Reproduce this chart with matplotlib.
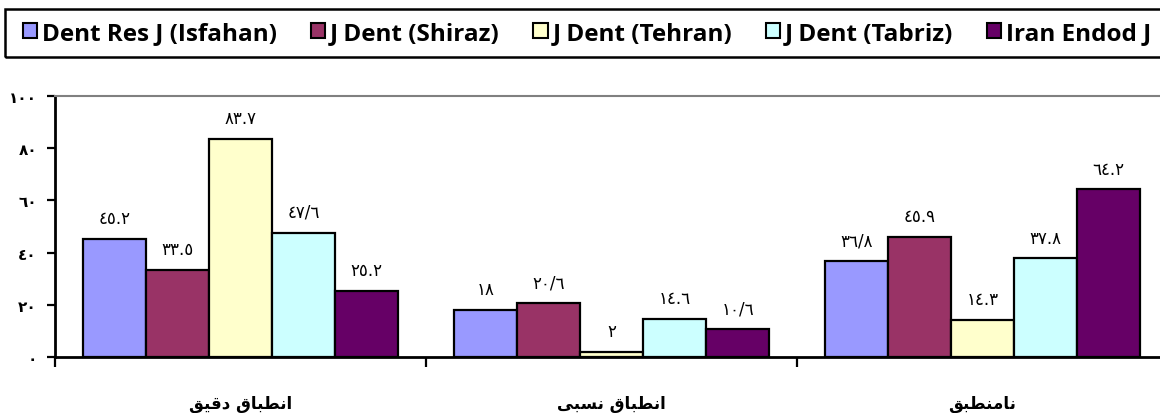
import numpy as np
import matplotlib
matplotlib.use('Agg')
import matplotlib.pyplot as plt
from matplotlib.patches import Patch, Rectangle

########################################################  Dados

categorias = ['انطباق دقیق', 'انطباق نسبی', 'نامنطبق']
series = ['Dent Res J (Isfahan)', 'J Dent (Shiraz)', 'J Dent (Tehran)',
          'J Dent (Tabriz)', 'Iran Endod J']

isfahan = [45.2, 18, 36.8]
shiraz = [33.5, 20.6, 45.9]
tehran = [83.7, 2, 14.3]
tabriz = [47.6, 14.6, 37.8]
endod = [25.2, 10.6, 64.2]

isfahan_rot = ['٤٥.٢', '١٨', '٣٦/٨']
shiraz_rot = ['٣٣.٥', '٢٠/٦', '٤٥.٩']
tehran_rot = ['٨٣.٧', '٢', '١٤.٣']
tabriz_rot = ['٤٧/٦', '١٤.٦', '٣٧.٨']
endod_rot = ['٢٥.٢', '١٠/٦', '٦٤.٢']

y_ticks = [0, 20, 40, 60, 80, 100]
y_rotulos = ['٠', '٢٠', '٤٠', '٦٠', '٨٠', '١٠٠']

cores = ['#9999FF', '#993366', '#FFFFCC', '#CCFFFF', '#660066']

########################################################  Funções

# formas de apresentação (isolada, final, inicial, medial) das letras usadas
FORMAS = {
    'ا': ('\ufe8d', '\ufe8e', None, None),
    'د': ('\ufea9', '\ufeaa', None, None),
    'ن': ('\ufee5', '\ufee6', '\ufee7', '\ufee8'),
    'ط': ('\ufec1', '\ufec2', '\ufec3', '\ufec4'),
    'ب': ('\ufe8f', '\ufe90', '\ufe91', '\ufe92'),
    'ق': ('\ufed5', '\ufed6', '\ufed7', '\ufed8'),
    'س': ('\ufeb1', '\ufeb2', '\ufeb3', '\ufeb4'),
    'م': ('\ufee1', '\ufee2', '\ufee3', '\ufee4'),
    'ی': ('\ufeef', '\ufef0', '\ufef3', '\ufef4'),
}


def molda_texto(texto):
    # junta as letras e inverte para exibição da direita para a esquerda
    palavras = []
    for palavra in texto.split(' '):
        res = []
        for i, c in enumerate(palavra):
            iso, fin, ini, med = FORMAS[c]
            liga_antes = i > 0 and FORMAS[palavra[i - 1]][2] is not None
            tem_depois = i < len(palavra) - 1
            if liga_antes and tem_depois and med:
                res.append(med)
            elif liga_antes:
                res.append(fin)
            elif tem_depois and ini:
                res.append(ini)
            else:
                res.append(iso)
        palavras.append(''.join(reversed(res)))
    return ' '.join(reversed(palavras))

########################################################  Gráfico

fig = plt.figure(figsize=(11.6, 4.14), dpi=100)
ax = fig.add_axes([55 / 1160, 1 - 358 / 414, 1113 / 1160, 261 / 414])

valores = [isfahan, shiraz, tehran, tabriz, endod]
rotulos = [isfahan_rot, shiraz_rot, tehran_rot, tabriz_rot, endod_rot]
x = np.arange(len(categorias))
largura = 0.17

for k in range(len(series)):
    pos = x + (k - 2) * largura
    barras = ax.bar(pos, valores[k], width=largura, color=cores[k],
                    edgecolor='black', linewidth=1.6, label=series[k])
    for b, r in zip(barras, rotulos[k]):
        ax.annotate(r, (b.get_x() + b.get_width() / 2, b.get_height()),
                    xytext=(0, 15), textcoords='offset points',
                    ha='center', va='center', fontsize=12,
                    family='DejaVu Sans')

ax.set_xlim(-0.5, 2.5)
ax.set_ylim(0, 100)

ax.set_yticks(y_ticks)
ax.set_yticklabels(y_rotulos, fontsize=11, fontweight='bold', family='DejaVu Sans')
ax.tick_params(axis='y', length=6, width=1.6, pad=7)

# rótulos das categorias, centrados abaixo de cada grupo
ax.set_xticks([-0.5, 0.5, 1.5, 2.5])
ax.set_xticklabels([])
ax.tick_params(axis='x', length=7, width=1.6)
for xi, c in zip(x, categorias):
    ax.text(xi, -0.178, molda_texto(c), transform=ax.get_xaxis_transform(),
            ha='center', va='center', fontsize=12, fontweight='bold',
            family='DejaVu Sans')

ax.spines['left'].set_linewidth(2)
ax.spines['bottom'].set_linewidth(2)
ax.spines['top'].set_color('#808080')
ax.spines['top'].set_linewidth(1.5)
ax.spines['right'].set_visible(False)

# moldura da legenda
fig.patches.append(Rectangle((5 / 1160, 1 - 58 / 414), 1170 / 1160, 48 / 414,
                             transform=fig.transFigure, fill=False,
                             edgecolor='black', linewidth=1.8))

handles = [Patch(facecolor=c, edgecolor='black', linewidth=1.5) for c in cores]
fig.legend(handles, series, loc='center left', bbox_to_anchor=(1 / 1160, 1 - 34 / 414),
           ncol=5, frameon=False, handlelength=0.6, handleheight=0.6,
           handletextpad=0.2, columnspacing=1.37,
           prop={'family': 'Open Sans', 'weight': 'bold', 'size': 17.5})

plt.savefig('out.png', dpi=100)
